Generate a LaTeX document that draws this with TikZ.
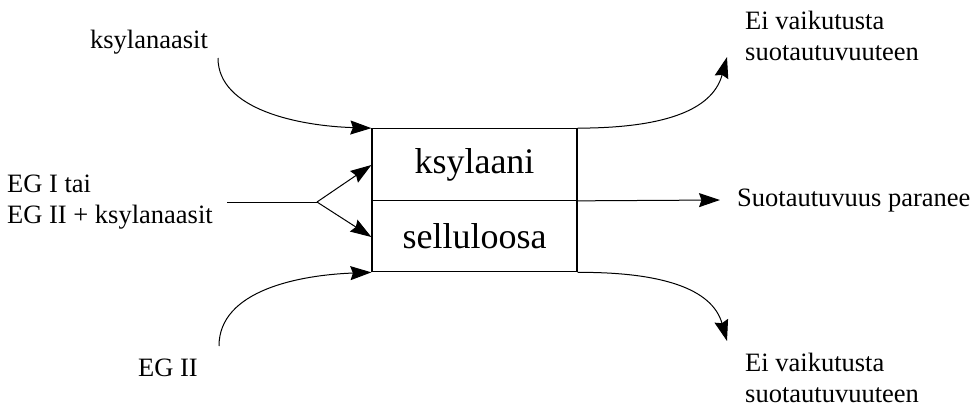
\documentclass[tikz,border=0pt]{standalone}
\usepackage{fontspec}
\setmainfont{Liberation Serif}
\usetikzlibrary{arrows.meta}
\begin{document}
\begin{tikzpicture}[x=1pt,y=-1pt,
  lbl/.style={inner sep=0pt,font=\fontsize{26.5}{31.5}\selectfont},
  boxpart/.style={draw,line width=1.2pt,minimum width=205pt,minimum height=71.5pt,inner sep=0pt,font=\fontsize{36}{40}\selectfont},
  conn/.style={line width=1pt,-{Stealth[length=21pt,width=14pt,inset=2.5pt]}},
  plain/.style={line width=1pt}]
\useasboundingbox (0,0) rectangle (978,408);
% box
\node[boxpart] (xyl) at (474.5,164.5) {ksylaani};
\node[boxpart] (cel) at (474.5,236) {selluloosa};
% left labels
\node[lbl] (ksy) at (149,42) {ksylanaasit};
\node[lbl,anchor=west,align=left] (egi) at (7,202) {EG I tai\\EG II + ksylanaasit};
\node[lbl] (egii) at (168,368) {EG II};
% right labels
\node[lbl,anchor=west,align=left] (top) at (745,36) {Ei vaikutusta\\suotautuvuuteen};
\node[lbl,anchor=west] (mid) at (737,201) {Suotautuvuus paranee};
\node[lbl,anchor=west,align=left] (bot) at (745,378) {Ei vaikutusta\\suotautuvuuteen};
% coordinates
\coordinate (k0) at (218,58);
\coordinate (e0) at (227,202);
\coordinate (split) at (317,202);
\coordinate (g0) at (219,346);
\coordinate (t1) at (727,57);
\coordinate (m1) at (720,200);
\coordinate (b1) at (727,341);
% input connectors
\draw[conn] (k0) .. controls (218,110) and (300,126) .. (xyl.north west);
\draw[plain] (e0) -- (split);
\draw[conn] (split) -- (xyl.west |- 0,165);
\draw[conn] (split) -- (cel.west |- 0,237);
\draw[conn] (g0) .. controls (219,290) and (300,275) .. (cel.south west);
% output connectors
\draw[conn] (xyl.north east) .. controls (660,128) and (712,112) .. (t1);
\draw[conn] (xyl.south east) -- (m1);
\draw[conn] (cel.south east) .. controls (660,272) and (712,288) .. (b1);
\end{tikzpicture}
\end{document}
